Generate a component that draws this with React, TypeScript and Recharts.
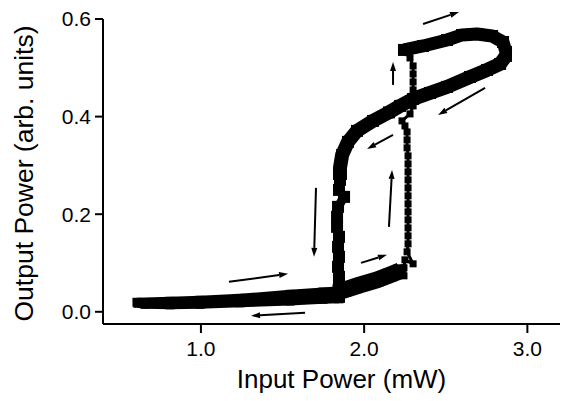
import React from 'react';
import { ScatterChart, Scatter, XAxis, YAxis, ReferenceLine, Label } from 'recharts';

// increasing input, low-output branch
const upLowX = [0.608, 0.811, 0.994, 1.239, 1.546, 1.748, 1.852];
const upLowY = [0.0195, 0.0215, 0.0236, 0.0276, 0.0358, 0.0405, 0.043];

// increasing input, just before the switch
const upMidX = [1.846, 1.883, 1.975, 2.079, 2.159, 2.22];
const upMidY = [0.043, 0.0451, 0.0553, 0.0655, 0.0758, 0.084];

// switch up (sparse points)
const jumpX = [2.244, 2.244, 2.25, 2.3, 2.263, 2.269, 2.269, 2.269, 2.269, 2.269, 2.269, 2.269, 2.269, 2.269, 2.269, 2.269,
  2.269, 2.263, 2.263, 2.263, 2.25, 2.232, 2.281, 2.3, 2.3, 2.3, 2.3, 2.3, 2.3, 2.281, 2.25];
const jumpY = [0.0737, 0.0901, 0.1065, 0.0983, 0.1229, 0.1393, 0.1556, 0.172, 0.1884, 0.2048, 0.2212, 0.2376, 0.2539,
  0.2703, 0.2867, 0.3031, 0.3195, 0.3359, 0.3522, 0.3686, 0.3809, 0.3912, 0.4055, 0.4219, 0.4383, 0.4546, 0.471,
  0.4874, 0.5038, 0.5202, 0.5325];

// high-output branch, increasing
const topUpX = [2.244, 2.361, 2.508, 2.6, 2.692, 2.784, 2.851, 2.869];
const topUpY = [0.5366, 0.5447, 0.557, 0.5673, 0.5693, 0.5652, 0.5529, 0.5325];

// decreasing input, high-output branch
const downDiagX = [2.869, 2.833, 2.753, 2.649, 2.508, 2.404, 2.3, 2.22, 2.152, 2.054, 1.956, 1.901, 1.865, 1.852, 1.852];
const downDiagY = [0.5243, 0.5079, 0.4956, 0.4813, 0.4608, 0.4485, 0.4362, 0.4219, 0.4086, 0.3912, 0.3707, 0.3482,
  0.3215, 0.2949, 0.2703];

// switch down
const downVertX = [1.846, 1.877, 1.84, 1.834, 1.834, 1.846, 1.84, 1.846, 1.84, 1.846, 1.846, 1.846];
const downVertY = [0.2498, 0.2355, 0.215, 0.1946, 0.1741, 0.1536, 0.1331, 0.1126, 0.0922, 0.0717, 0.0512, 0.0307];

// decreasing input, low-output branch
const downLowX = [1.846, 1.748, 1.546, 1.239, 0.994, 0.811, 0.657, 0.614];
const downLowY = [0.0266, 0.0256, 0.0221, 0.0184, 0.0154, 0.0143, 0.0154, 0.0174];

// direction arrows (start -> head)
const arrowX1 = [2.361, 2.177, 2.741, 2.177, 2.152, 1.705, 1.981, 1.172, 1.638];
const arrowY1 = [0.5898, 0.4649, 0.4587, 0.3625, 0.1741, 0.2539, 0.1003, 0.0614, -0.002];
const arrowX2 = [2.581, 2.177, 2.453, 2.018, 2.171, 1.693, 2.14, 1.534, 1.307];
const arrowY2 = [0.6144, 0.512, 0.4034, 0.3338, 0.2908, 0.1126, 0.1167, 0.0778, -0.0082];

const xTicks = [1, 2, 3];
const yTicks = [0, 0.2, 0.4, 0.6];

const zip = (xs: number[], ys: number[]) => xs.map((x, i) => ({ x, y: ys[i] }));

const font = '"Liberation Sans", Arial, Helvetica, sans-serif';

const square = (size: number) => (props: any) => {
  const { cx, cy } = props;
  if (cx == null || cy == null) return <g />;
  return <rect x={cx - size / 2} y={cy - size / 2} width={size} height={size} fill="#000" />;
};

const ArrowShape = (props: any) => {
  const { x1, y1, x2, y2 } = props;
  const ang = Math.atan2(y2 - y1, x2 - x1);
  const len = 9;
  const half = 3;
  const bx = x2 - len * Math.cos(ang);
  const by = y2 - len * Math.sin(ang);
  const px = -Math.sin(ang) * half;
  const py = Math.cos(ang) * half;
  return (
    <g>
      <line x1={x1} y1={y1} x2={bx} y2={by} stroke="#000" strokeWidth={2} />
      <polygon points={`${x2},${y2} ${bx + px},${by + py} ${bx - px},${by - py}`} fill="#000" />
    </g>
  );
};

const YTitle = (props: any) => {
  const vb = props.viewBox || { y: 19, height: 305 };
  const x = 33;
  const y = vb.y + vb.height / 2 + 2;
  return (
    <text x={x} y={y} transform={`rotate(-90, ${x}, ${y})`} textAnchor="middle"
      fontFamily={font} fontSize={26.5} fill="#000">
      Output Power (arb. units)
    </text>
  );
};

const XTitle = (props: any) => {
  const vb = props.viewBox || { x: 103, y: 324, width: 457 };
  return (
    <text x={vb.x + vb.width / 2 + 10} y={vb.y + 64} textAnchor="middle"
      fontFamily={font} fontSize={26} fill="#000">
      Input Power (mW)
    </text>
  );
};

const segments = [
  { key: 'upLow', data: zip(upLowX, upLowY), width: 9, size: 9 },
  { key: 'downLow', data: zip(downLowX, downLowY), width: 9, size: 9 },
  { key: 'upMid', data: zip(upMidX, upMidY), width: 17, size: 13 },
  { key: 'topUp', data: zip(topUpX, topUpY), width: 13, size: 12 },
  { key: 'downDiag', data: zip(downDiagX, downDiagY), width: 14, size: 12 },
  { key: 'downVert', data: zip(downVertX, downVertY), width: 9, size: 12 },
  { key: 'jump', data: zip(jumpX, jumpY), width: 3, size: 7 },
];

const tickStyle = { fontFamily: font, fontSize: 21, fill: '#000' };

export default function App() {
  return (
    <div style={{ position: 'absolute', left: 0, top: 0, width: 562, height: 401, background: '#fff' }}>
      <ScatterChart width={562} height={401} margin={{ top: 19, right: 2, left: 0, bottom: 0 }}>
        <XAxis
          type="number"
          dataKey="x"
          domain={[0.4, 3.2]}
          ticks={xTicks}
          tickFormatter={(v: number) => v.toFixed(1)}
          height={77}
          tickSize={9}
          tickMargin={8}
          tick={tickStyle}
          axisLine={{ stroke: '#000', strokeWidth: 2 }}
          tickLine={{ stroke: '#000', strokeWidth: 2 }}
          allowDataOverflow
        >
          <Label content={XTitle} />
        </XAxis>
        <YAxis
          type="number"
          dataKey="y"
          domain={[-0.025, 0.6]}
          ticks={yTicks}
          tickFormatter={(v: number) => v.toFixed(1)}
          width={103}
          tickSize={8}
          tickMargin={4}
          tick={tickStyle}
          axisLine={{ stroke: '#000', strokeWidth: 2 }}
          tickLine={{ stroke: '#000', strokeWidth: 2 }}
          allowDataOverflow
        >
          <Label content={YTitle} />
        </YAxis>
        {segments.map((s) => (
          <Scatter
            key={s.key}
            data={s.data}
            fill="#000"
            line={{ stroke: '#000', strokeWidth: s.width, strokeLinejoin: 'round', strokeLinecap: 'butt' }}
            shape={square(s.size)}
            isAnimationActive={false}
          />
        ))}
        {arrowX1.map((x, i) => (
          <ReferenceLine
            key={'arrow' + i}
            segment={[{ x, y: arrowY1[i] }, { x: arrowX2[i], y: arrowY2[i] }]}
            ifOverflow="visible"
            shape={ArrowShape}
          />
        ))}
      </ScatterChart>
    </div>
  );
}
